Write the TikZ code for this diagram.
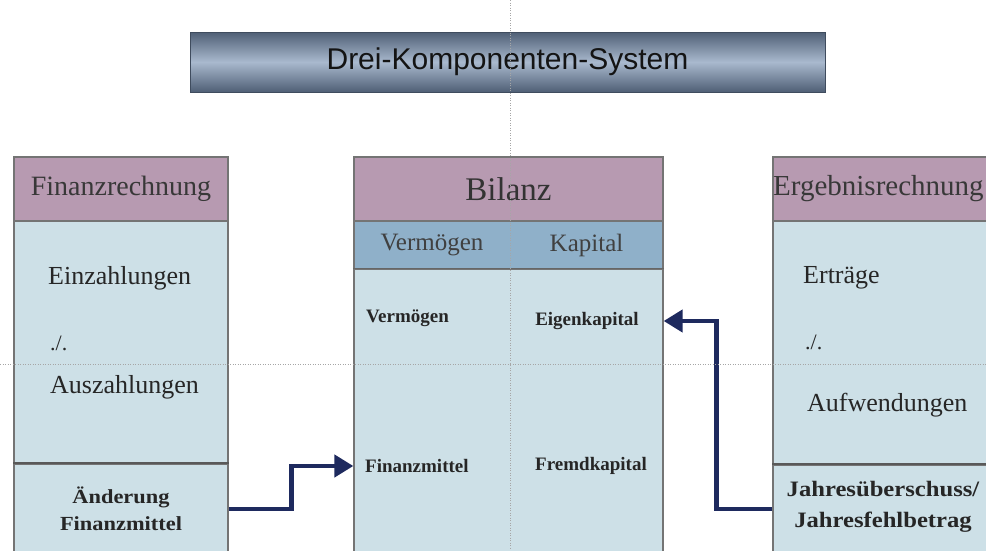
\documentclass[tikz,border=0pt]{standalone}
\usepackage{fontspec}
\setmainfont{Liberation Serif}
\newfontfamily\titlefont{Liberation Sans}
\newfontfamily\widefont[FakeStretch=1.12]{Liberation Serif}
\usetikzlibrary{arrows.meta}
\definecolor{hdr}{HTML}{B79AB1}
\definecolor{sub}{HTML}{8FB0C9}
\definecolor{bodyc}{HTML}{CDE0E7}
\definecolor{edge}{HTML}{747474}
\definecolor{navy}{HTML}{1E2A5E}
\definecolor{bardark}{HTML}{4F5F75}
\definecolor{barlight}{HTML}{A9B9CE}
\tikzset{
  cell/.style={draw=edge, line width=1.3pt, inner sep=0pt, minimum width=#1},
  hdrcell/.style={cell=#1, fill=hdr, minimum height=64pt},
  txt/.style={inner sep=0pt, text=black!85},
  big/.style={txt, font=\fontsize{26}{30}\selectfont},
  head/.style={txt, font=\fontsize{28}{32}\selectfont, text=black!78},
  small/.style={txt, font=\fontsize{19}{22}\selectfont\bfseries},
  wide/.style={txt, align=center, font=\widefont\fontsize{20}{27}\selectfont\bfseries},
  conn/.style={draw=navy, line width=4.4pt, -{Triangle[length=19pt,width=22pt]}},
  guide/.style={draw=gray!70, line width=0.8pt, dash pattern=on 1pt off 1.5pt},
  divider/.style={draw=black!65, line width=2pt}
}
\begin{document}
\begin{tikzpicture}[x=1pt,y=-1pt]
\clip (0,0) rectangle (986,550);
\fill[white] (0,0) rectangle (986,550);

% title
\node[draw=bardark!80!black, line width=1pt, minimum width=635pt, minimum height=60pt,
  top color=bardark, bottom color=bardark, middle color=barlight, inner sep=0pt] (title) at (507.5,62) {};
\node[inner sep=0pt, font=\titlefont\fontsize{30}{34}\selectfont, text=black!92] (titletxt) at (title.center) {Drei-Komponenten-System};

% left column
\node[hdrcell=214pt, head] (lh) at (121,189) {Finanzrechnung};
\node[cell=214pt, fill=bodyc, minimum height=243pt] (lbody) at (121,342.5) {};
\node[cell=214pt, fill=bodyc, minimum height=90pt, wide] (lbot) at (121,509) {Änderung\\Finanzmittel};
\draw[divider] (lbot.north west) -- (lbot.north east);
\node[big, anchor=west] (ein) at (48,278) {Einzahlungen};
\node[big, anchor=west, font=\fontsize{22}{26}\selectfont] (lminus) at (50,343) {./.};
\node[big, anchor=west] (aus) at (50,387) {Auszahlungen};

% middle column
\node[hdrcell=309pt, txt, font=\fontsize{33}{36}\selectfont, text=black!80] (mh) at (508.5,189) {Bilanz};
\node[cell=309pt, fill=sub, minimum height=48pt] (msub) at (508.5,245) {};
\node[txt, font=\fontsize{25}{28}\selectfont, text=black!75] (mvh) at (432,245) {Vermögen};
\node[txt, font=\fontsize{25}{28}\selectfont, text=black!75] (mkh) at (586.5,245) {Kapital};
\node[cell=309pt, fill=bodyc, minimum height=285pt] (mb) at (508.5,411.5) {};
\draw[draw=black!60, line width=1.3pt] (mb.north west) -- (mb.north east);
\node[small, anchor=west] (verm) at (366,318) {Vermögen};
\node[small] (ek) at (587,321) {Eigenkapital};
\node[small, anchor=west] (fm) at (365,466) {Finanzmittel};
\node[small] (fk) at (591,466) {Fremdkapital};

% right column
\node[hdrcell=216pt] (rh) at (881,189) {};
\node[head, anchor=west, font=\fontsize{29}{32}\selectfont] (rht) at (773,189) {Ergebnisrechnung};
\node[cell=216pt, fill=bodyc, minimum height=244pt] (rbody) at (881,343) {};
\node[cell=216pt, fill=bodyc, minimum height=88pt] (rbot) at (881,509) {};
\draw[divider] (rbot.north west) -- (rbot.north east);
\node[wide, font=\widefont\fontsize{22}{31}\selectfont\bfseries] (jue) at (883,507) {Jahresüberschuss/\\Jahresfehlbetrag};
\node[big, anchor=west] (ert) at (803,278) {Erträge};
\node[big, anchor=west, font=\fontsize{22}{26}\selectfont] (rminus) at (805,342) {./.};
\node[big, anchor=west] (aufw) at (807,405) {Aufwendungen};

% connectors
\draw[conn] (lbot.east) -- ++(63,0) |- (fm.west -| mb.west);
\draw[conn] (rbot.west) -- ++(-56,0) |- (ek.center -| mb.east);

% guide lines
\draw[guide] (510,0) -- (510,550);
\draw[guide] (0,364) -- (986,364);
\end{tikzpicture}
\end{document}
